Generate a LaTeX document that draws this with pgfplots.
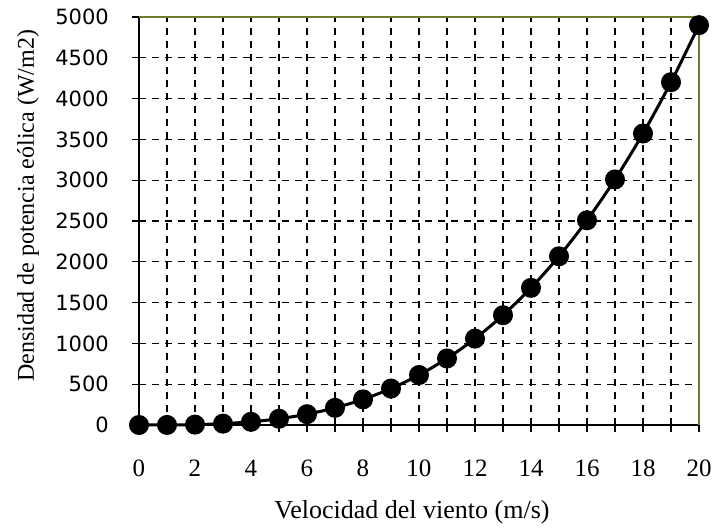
\documentclass[border=0pt]{standalone}
\usepackage{fontspec}
\setmainfont{Liberation Serif}
\newfontfamily\ysans{DejaVu Sans}
\usepackage{pgfplots}
\pgfplotsset{compat=1.18}
\definecolor{olivefr}{RGB}{110,122,45}
\begin{document}
\begin{tikzpicture}
\begin{axis}[
  scale only axis,
  width=560pt, height=408pt,
  xmin=0, xmax=20, ymin=0, ymax=5000,
  clip=false,
  axis x line*=bottom, axis y line*=left,
  axis line style={line width=1.8pt, black},
  xtick={0,1,...,20},
  xticklabels={0,,2,,4,,6,,8,,10,,12,,14,,16,,18,,20},
  ytick={0,500,...,5000},
  tick align=center,
  major tick length=14pt,
  tick style={black, line width=1.2pt},
  grid=major,
  major grid style={black, line width=1.1pt, dash pattern=on 7pt off 6pt},
  /pgf/number format/assume math mode=true,
  /pgf/number format/1000 sep={},
  xticklabel style={font=\fontsize{25}{25}\selectfont, anchor=base, inner sep=0pt, yshift=-45pt},
  yticklabel style={font=\ysans\fontsize{21}{21}\selectfont, anchor=east, inner sep=0pt, xshift=-23pt},
  xlabel={Velocidad del viento (m/s)},
  ylabel={Densidad de potencia eólica (W/m2)},
  xlabel style={font=\fontsize{26}{26}\selectfont, at={(axis description cs:0.4875,-0.2304)}, anchor=base, inner sep=0pt},
  ylabel style={font=\fontsize{24}{24}\selectfont, at={(axis description cs:-0.1875,0.537)}, anchor=base, inner sep=0pt},
]
\draw[olivefr, line width=1.8pt] (rel axis cs:0,1) -- (rel axis cs:1,1) -- (rel axis cs:1,0);
\addplot[black, line width=3pt, smooth, mark=*, mark size=8.5pt, mark options={solid, fill=black}] coordinates {
(0,0) (1,0.6) (2,4.9) (3,16.5) (4,39.2) (5,76.6) (6,132.3) (7,210.1) (8,313.6) (9,446.5)
(10,612.5) (11,815.2) (12,1058.4) (13,1345.7) (14,1680.7) (15,2067.2) (16,2508.8)
(17,3009.3) (18,3572.1) (19,4201.3) (20,4900)
};
\coordinate (sw) at (rel axis cs:0,0);
\coordinate (ne) at (rel axis cs:1,1);
\end{axis}
\pgfresetboundingbox
\path ([shift={(-139pt,-104pt)}]sw) rectangle ([shift={(16pt,17pt)}]ne);
\end{tikzpicture}
\end{document}
